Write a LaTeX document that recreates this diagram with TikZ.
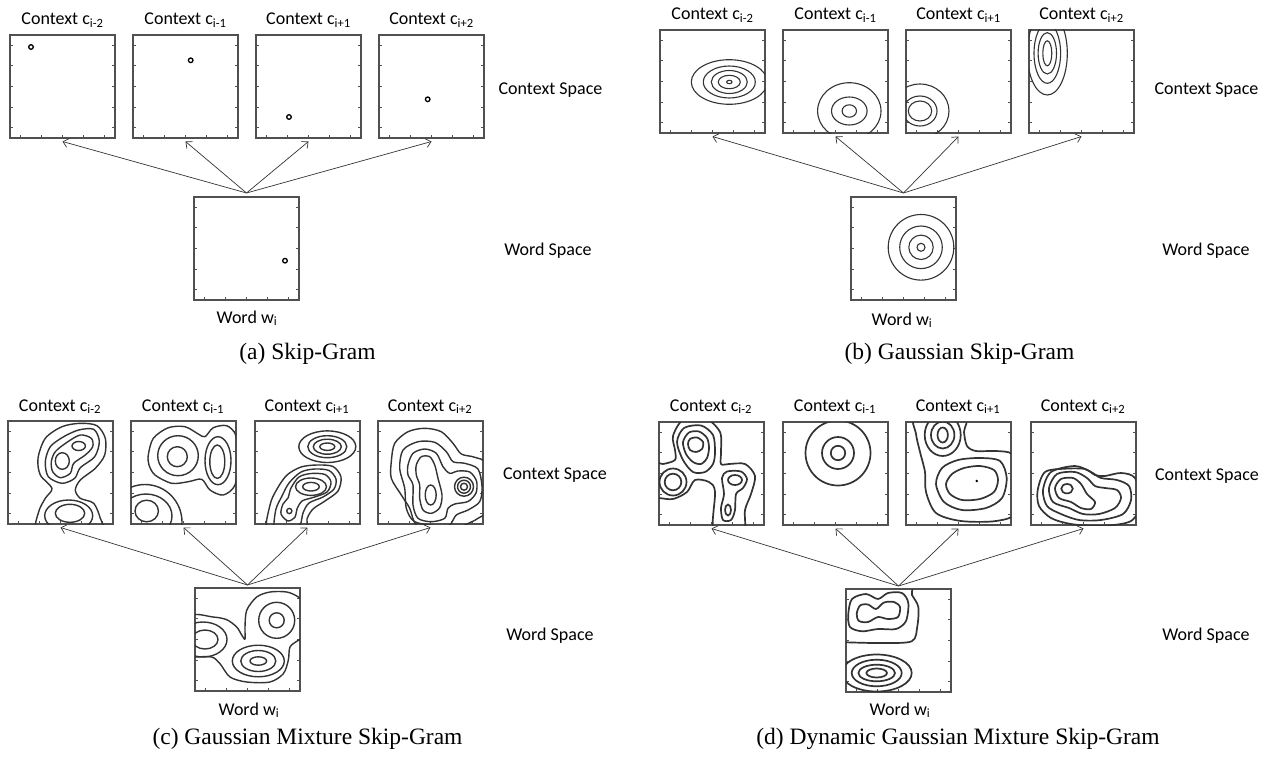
\documentclass[tikz,border=0pt]{standalone}
\usepackage{fontspec}
\setmainfont{Liberation Serif}
\newfontfamily\labfont{Carlito}
\usetikzlibrary{calc,arrows.meta}
\definecolor{boxc}{HTML}{505050}
\definecolor{linec}{HTML}{333333}
\tikzset{
  pbox/.style={draw=boxc, line width=1.4pt, minimum width=105pt, minimum height=103pt, inner sep=0pt, outer sep=0pt, anchor=north west},
  tickline/.style={draw=boxc, line width=0.9pt},
  lab/.style={font=\labfont\fontsize{18}{21}\selectfont, inner sep=0pt, anchor=base},
  capt/.style={font=\fontsize{23.5}{27}\selectfont, inner sep=0pt, anchor=base},
  conn/.style={draw=linec, line width=0.7pt, -{Straight Barb[length=5pt,width=9pt]}},
  cb/.style={draw=linec, line width=1.1pt},
  cc/.style={draw=linec, line width=1.4pt},
  cd/.style={draw=linec, line width=1.7pt},
  ptmark/.style={draw=black, line width=1.3pt},
}
\newcommand{\pbox}[3]{%
  \node[pbox] (#1) at (#2,#3) {};
  \foreach \f in {0.1,0.3,0.5,0.7,0.9}{%
    \draw[tickline] ($(#1.north west)!\f!(#1.south west)$) -- ++(2.6,0);
    \draw[tickline] ($(#1.north east)!\f!(#1.south east)$) -- ++(-2.6,0);
    \draw[tickline] ($(#1.south west)!\f!(#1.south east)$) -- ++(0,-2.6);
  }}
\newcommand{\inbox}[2]{%
  \begin{scope}[shift={(#1.north west)}]
    \clip (0,0) rectangle (105,103);
    #2
  \end{scope}}
\begin{document}
\begin{tikzpicture}[x=1pt,y=-1pt]
\useasboundingbox (0,0) rectangle (1273,760);

% ================= (a) =================
\pbox{A1}{10}{35}\pbox{A2}{133}{35}\pbox{A3}{256}{35}\pbox{A4}{379}{35}
\pbox{WA}{194}{197}
\inbox{A1}{\draw[ptmark] (21,12) circle (2.3);}
\inbox{A2}{\draw[ptmark] (57.7,25.3) circle (2.3);}
\inbox{A3}{\draw[ptmark] (33,82) circle (2.3);}
\inbox{A4}{\draw[ptmark] (48.7,64.3) circle (2.3);}
\inbox{WA}{\draw[ptmark] (91,63.7) circle (2.3);}
\node[lab] (lA1) at (62.5,25) {Context c\textsubscript{i-2}};
\node[lab] (lA2) at (185.5,25) {Context c\textsubscript{i-1}};
\node[lab] (lA3) at (308.5,25) {Context c\textsubscript{i+1}};
\node[lab] (lA4) at (431.5,25) {Context c\textsubscript{i+2}};
\node[lab] (csA) at (550.5,94) {Context Space};
\node[lab] (wsA) at (548,255) {Word Space};
\node[lab] (wlA) at (247,323) {Word w\textsubscript{i}};
\node[capt] (capA) at (307.5,359) {(a) Skip-Gram};
\coordinate (apA) at ($(WA.north)+(0,-4)$);
\foreach \b in {A1,A2,A3,A4}{\draw[conn] (apA) -- ($(\b.south)+(0,3.5)$);}

% ================= (b) =================
\pbox{B1}{660}{30}\pbox{B2}{783}{30}\pbox{B3}{906}{30}\pbox{B4}{1029}{30}
\pbox{WB}{851}{197}
\inbox{B1}{\foreach \rx/\ry in {38/22.3,26/16,18/11.5,11/6.7,2.7/1.7}{\draw[cb] (69.3,52) ellipse ({\rx} and {\ry});}}
\inbox{B2}{\draw[cb] (66.3,81) ellipse (31.7 and 28.3); \draw[cb] (66.3,81) ellipse (17.8 and 14); \draw[cb] (66.3,81) ellipse (7.2 and 6.2);}
\inbox{B3}{\draw[cb] (14,81) ellipse (29 and 27); \draw[cb] (14,81) ellipse (17 and 15); \draw[cb] (14,81) ellipse (11.7 and 10);}
\inbox{B4}{\foreach \rx/\ry in {20/41.7,13.3/30,9.2/20.7,4.5/12.5}{\draw[cb] (18.3,23.3) ellipse ({\rx} and {\ry});}}
\inbox{WB}{\foreach \r in {32.8,21.3,12.2,4}{\draw[cb] (70,50.3) circle (\r);}}
\node[lab] (lB1) at (712.5,20) {Context c\textsubscript{i-2}};
\node[lab] (lB2) at (835.5,20) {Context c\textsubscript{i-1}};
\node[lab] (lB3) at (958.5,20) {Context c\textsubscript{i+1}};
\node[lab] (lB4) at (1081.5,20) {Context c\textsubscript{i+2}};
\node[lab] (csB) at (1206.5,94) {Context Space};
\node[lab] (wsB) at (1206,255) {Word Space};
\node[lab] (wlB) at (902,325) {Word w\textsubscript{i}};
\node[capt] (capB) at (959.5,359) {(b) Gaussian Skip-Gram};
\coordinate (apB) at ($(WB.north)+(0,-4)$);
\foreach \b in {B1,B2,B3,B4}{\draw[conn] (apB) -- ($(\b.south)+(0,3.5)$);}

% ================= (c) =================
\pbox{C1}{8}{421}\pbox{C2}{131}{421}\pbox{C3}{255}{421}\pbox{C4}{378}{421}
\pbox{WC}{195}{588}
\inbox{C1}{
  \draw[cc] (70.7,25) ellipse (6.7 and 4.5);
  \draw[cc] (54.3,40) ellipse (7 and 8.3);
  \draw[cc] plot[smooth cycle] coordinates {(43.3,40.7) (47.3,30.7) (59,21.3) (72.3,14) (83.3,17.3) (84.7,25.7) (77.3,34) (65.7,42.3) (62.3,52.3) (52.3,56.7) (44.7,50.7)};
  \draw[cc] plot[smooth cycle] coordinates {(37.3,40.7) (42.3,25.7) (55.7,15.7) (70.7,9) (85.7,8.3) (91.3,20.3) (86.7,35.7) (72.3,46.7) (66.7,57.3) (54,62.3) (40.3,55.7)};
  \draw[cc] plot[smooth cycle] coordinates {(44,67.3) (32.3,54) (30,37.3) (37.3,17.3) (54,5.7) (72.3,2.3) (89,4.7) (97.3,17.3) (96.7,34) (87.3,47.3) (72.3,59) (67.3,69) (72.3,77.3) (85.7,82.3) (92.3,97.3) (94,110) (60,118) (29,110) (30.7,90.7) (37.3,77.3)};
  \draw[cc] (60.7,94.7) ellipse (24 and 15.7);
  \draw[cc] (62,92.3) ellipse (14.7 and 9);
}
\inbox{C2}{
  \draw[cc] (46.3,35.7) circle (10);
  \draw[cc] (47,34.7) ellipse (20.3 and 20);
  \draw[cc] (86.3,40.7) ellipse (7.5 and 16.7);
  \draw[cc] (87,39.7) ellipse (13 and 24);
  \draw[cc] plot[smooth cycle] coordinates {(17.3,34) (22.3,17.3) (37.3,6.7) (54,5.7) (67.3,13) (74,15.7) (82.3,6.7) (95.7,4.7) (104.7,14) (107.3,37.3) (104,64) (92.3,74) (79,69) (70.7,58.3) (57.3,60.7) (40.7,62.3) (24,54) (18,44)};
  \draw[cc] (15.7,90) ellipse (11.7 and 10.8);
  \draw[cc] (15,95) ellipse (26 and 22);
  \draw[cc] (14,101) ellipse (37 and 37.5);
}
\inbox{C3}{
  \foreach \rx/\ry in {7.5/3.7,14/7.5,19.5/11,28.5/15.8}{\draw[cc] (72.3,25.7) ellipse ({\rx} and {\ry});}
  \draw[cc] (56,65.7) ellipse (8.3 and 4.3);
  \draw[cc] (56,65.7) ellipse (15.5 and 8.7);
  \draw[cc] (34.3,90) circle (2.6);
  \draw[cc] plot[smooth cycle] coordinates {(26,93) (28,83) (33,77) (36,67) (44,56) (56,52.5) (70,53.5) (76,61) (72,71) (58,76.5) (47,80) (42,88) (40,96) (33,100)};
  \draw[cc] plot[smooth cycle] coordinates {(19,106) (21,88) (27,75) (34,62) (46,51) (60,48) (74,49.5) (81,58) (79,68) (68,76) (54,82) (48,92) (45,104) (35,108) (25,106)};
  \draw[cc] plot[smooth cycle] coordinates {(13,112) (15,84) (22,68) (32,54) (46,46) (62,44) (78,45.5) (86,56) (83,70) (70,80) (58,88) (52,98) (50,112)};
}
\inbox{C4}{
  \foreach \r in {3.5,6.5,9.5}{\draw[cc] (86,65.7) circle (\r);}
  \draw[cc] (52.7,74) ellipse (5.5 and 10);
  \draw[cc] plot[smooth cycle] coordinates {(38.3,44) (43.3,35.7) (51.7,35.7) (56.7,44) (60,57.3) (64,74) (61.7,86.7) (53.3,92.3) (45,89) (41.7,77.3) (41.7,64) (38.3,54)};
  \draw[cc] plot[smooth cycle] coordinates {(30,44) (35,32.3) (46.7,28) (58.3,32.3) (65,45.7) (71.7,52.3) (80,50) (91.7,51) (98.5,60) (98,72) (90,80.5) (76.7,83) (70,87.3) (66.7,97.3) (53.3,100.7) (40,97.3) (35,84) (35,64) (30,54)};
  \draw[cc] plot[smooth cycle] coordinates {(21.7,47.3) (25,29) (40,20.7) (56.7,21.3) (68.3,30.7) (75,40.7) (86.7,42.3) (100,48) (104,65.7) (101.7,80.7) (90,89) (78.3,94) (71.7,104) (60,105) (36.7,100.7) (28.3,87.3) (26.7,67.3)};
  \draw[cc] plot[smooth cycle] coordinates {(13.3,40.7) (16.7,22.3) (30,10.7) (46.7,7.3) (63.3,10.7) (75,22.3) (83.3,33) (96.7,36.3) (108,44) (110,87) (100,97.3) (86.7,104) (60,116) (38.3,104) (31.7,87.3) (23.3,74) (13.3,57.3)};
}
\inbox{WC}{
  \draw[cc] (81.7,32.3) circle (7.5);
  \draw[cc] (81.7,32.3) circle (18);
  \draw[cc] (10,51.5) ellipse (13 and 9.5);
  \draw[cc] (8,51.5) ellipse (24 and 17.5);
  \foreach \rx/\ry in {8.3/4.2,17.5/10.5,26/15.8}{\draw[cc] (63.3,73) ellipse ({\rx} and {\ry});}
  \draw[cc] plot[smooth cycle] coordinates {(-5,29) (18,29) (31.7,31.7) (41.7,39) (46.7,47) (50,51) (50,39) (51.7,22.3) (61.7,9) (75,4) (91.7,4) (103.3,9) (115,20) (115,45) (103.3,52.3) (95,59) (93.3,72.3) (88.3,85.7) (75,94) (51.7,94) (35,89) (25,75.7) (16.7,69) (0,69) (-5,69)};
}
\node[lab] (lC1) at (60,411) {Context c\textsubscript{i-2}};
\node[lab] (lC2) at (183,411) {Context c\textsubscript{i-1}};
\node[lab] (lC3) at (307,411) {Context c\textsubscript{i+1}};
\node[lab] (lC4) at (430,411) {Context c\textsubscript{i+2}};
\node[lab] (csC) at (555,479) {Context Space};
\node[lab] (wsC) at (550,640) {Word Space};
\node[lab] (wlC) at (249,715) {Word w\textsubscript{i}};
\node[capt] (capC) at (307.5,744) {(c) Gaussian Mixture Skip-Gram};
\coordinate (apC) at ($(WC.north)+(0,-3)$);
\foreach \b in {C1,C2,C3,C4}{\draw[conn] (apC) -- ($(\b.south)+(0,3.5)$);}

% ================= (d) =================
\pbox{D1}{659}{422}\pbox{D2}{783}{422}\pbox{D3}{906}{422}\pbox{D4}{1031}{422}
\pbox{WD}{846}{589}
\inbox{D1}{
  \draw[cd] plot[smooth cycle] coordinates {(31,17) (38,15.5) (44,20) (43,27) (37,30) (31,28) (29,22)};
  \draw[cd] plot[smooth cycle] coordinates {(24,20) (30,10.5) (40,9.5) (48,16) (50,26) (48,36) (42,42) (34,40) (27,32)};
  \draw[cd] plot[smooth cycle] coordinates {(18,20) (25,6) (42,3.5) (54,13) (56,30) (54,42) (46,50) (34,50) (24,38)};
  \draw[cd] (14,60) circle (8.3);
  \draw[cd] (14,60) circle (13.5);
  \draw[cd] (76,58) ellipse (7 and 5);
  \draw[cd] (69,88) ellipse (3 and 5.5);
  \draw[cd] plot[smooth cycle] coordinates {(63,56) (68,49.5) (82,49.5) (88,57) (84,66) (77,72) (76,88) (72,98) (64,98) (62,86) (65,72)};
  \draw[cd] plot[smooth cycle] coordinates {(14,14) (24,-2) (46,-4) (61,10) (62,30) (62,42) (70,42) (86,42) (96,54) (92,72) (86,88) (84,112) (55,112) (56,70) (50,60) (36,58) (28,70) (14,77) (0,76) (-5,76) (-5,42) (4,42) (16,38) (16,28)};
}
\inbox{D2}{\foreach \r in {7.2,16,32.5}{\draw[cd] (55,31) circle (\r);}}
\inbox{D3}{
  \draw[cd] (36.7,13) ellipse (5.2 and 7.5);
  \draw[cd] (36.7,13) ellipse (11.7 and 13.5);
  \draw[cd] (36.7,13) ellipse (18 and 21);
  \fill[black] (70.7,59) circle (1.4);
  \draw[cd] plot[smooth cycle] coordinates {(40,62) (46,52) (58,46) (74,44) (88,48) (92,58) (88,70) (74,77) (56,78) (44,72)};
  \draw[cd] plot[smooth cycle] coordinates {(30,62) (36,46) (52,38) (74,36) (94,39) (100.7,56) (96,76) (80,86) (56,88) (38,80)};
  \draw[cd] plot[smooth cycle] coordinates {(10,-5) (10,12) (14,30) (19,50) (20,70) (30,91) (55,99) (90,99) (110,90) (112,50) (106,32) (90,29) (70,29) (61,24) (58,10) (58,-5)};
}
\inbox{D4}{
  \draw[cd] (36,66.7) ellipse (5.8 and 4.7);
  \draw[cd] plot[smooth cycle] coordinates {(24,66) (30,57) (42,56) (50,62) (56,72) (64,80) (60,87) (50,86) (40,80) (28,76)};
  \draw[cd] plot[smooth cycle] coordinates {(18,66) (26,52) (44,50) (56,56) (64,64) (74,66) (86,68) (90,76) (84,86) (68,92) (52,92) (38,86) (22,80)};
  \draw[cd] plot[smooth cycle] coordinates {(12,68) (20,50) (44,44) (60,50) (70,56) (86,58) (98,64) (100,78) (92,92) (70,98) (48,98) (30,92) (16,84)};
  \draw[cd] plot[smooth cycle] coordinates {(6.7,68) (14,50) (34,46.7) (54,47) (64,53) (74,54) (90,51) (104,56) (110,80) (100,99) (70,104) (40,102) (20,96) (8,84)};
}
\inbox{WD}{
  \draw[cd] plot[smooth cycle] coordinates {(10.7,25) (14,16.5) (22,15.5) (30,20) (38,13.5) (48,13) (54,18) (52,28) (42,30) (32,28) (22,33) (13,32)};
  \draw[cd] plot[smooth cycle] coordinates {(2.3,25) (6,10) (20,5) (32,10) (42,4) (56,4) (62.3,14) (60,32) (50,40) (32,40) (16,42.3) (4,38)};
  \draw[cd] plot[smooth cycle] coordinates {(-5,-5) (60.7,-5) (66,6) (72.3,18) (71.3,37.3) (65.7,52.3) (34,54) (0,53.3) (-5,53)};
  \foreach \rx/\ry in {10.3/4.5,18.3/8.3,25/13.3,35/18.5}{\draw[cd] (30.7,84) ellipse ({\rx} and {\ry});}
}
\node[lab] (lD1) at (711,411) {Context c\textsubscript{i-2}};
\node[lab] (lD2) at (835,411) {Context c\textsubscript{i-1}};
\node[lab] (lD3) at (958,411) {Context c\textsubscript{i+1}};
\node[lab] (lD4) at (1083,411) {Context c\textsubscript{i+2}};
\node[lab] (csD) at (1207,480) {Context Space};
\node[lab] (wsD) at (1206,640) {Word Space};
\node[lab] (wlD) at (900,715) {Word w\textsubscript{i}};
\node[capt] (capD) at (958,744) {(d) Dynamic Gaussian Mixture Skip-Gram};
\coordinate (apD) at ($(WD.north)+(0,-3)$);
\foreach \b in {D1,D2,D3,D4}{\draw[conn] (apD) -- ($(\b.south)+(0,3.5)$);}
\end{tikzpicture}
\end{document}
